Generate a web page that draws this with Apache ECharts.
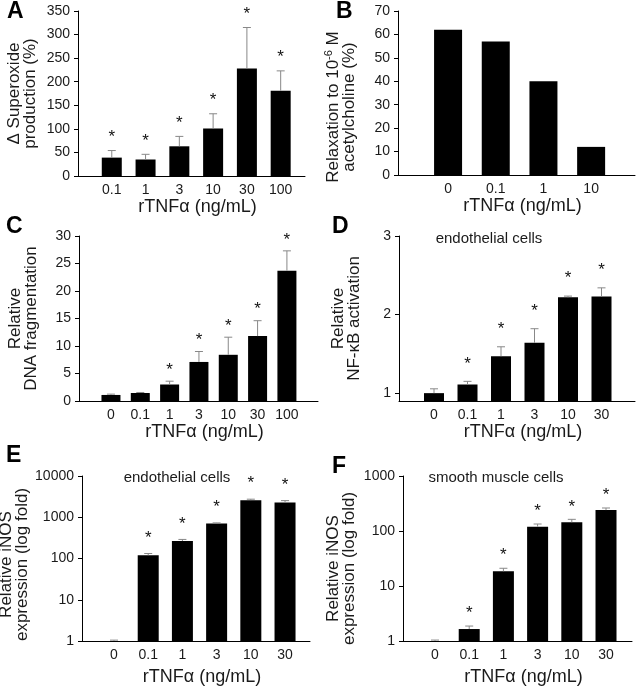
<!DOCTYPE html>
<html>
<head>
<meta charset="utf-8">
<script src="https://cdn.jsdelivr.net/npm/echarts@6/dist/echarts.min.js"></script>
<style>
  html, body { margin: 0; padding: 0; background: #fff; }
  #chart { width: 640px; height: 688px; }
</style>
</head>
<body>
<div id="chart"></div>
<script>
// A: superoxide production
const dosesA = ['0.1', '1', '3', '10', '30', '100'];
const superoxide = [39, 35, 63, 101, 228, 181];
const superoxideErr = [15, 11, 21, 31, 87, 42];
const superoxideSig = [1, 1, 1, 1, 1, 1];

// B: relaxation to acetylcholine
const dosesB = ['0', '0.1', '1', '10'];
const relaxation = [62, 57, 40, 12];

// C: DNA fragmentation
const dosesC = ['0', '0.1', '1', '3', '10', '30', '100'];
const dnaFrag = [1.1, 1.45, 3.0, 7.1, 8.4, 11.8, 23.7];
const dnaFragErr = [0.15, 0.1, 0.6, 1.9, 3.2, 2.8, 3.6];
const dnaFragSig = [0, 0, 1, 1, 1, 1, 1];

// D/E/F share the same doses
const dosesDEF = ['0', '0.1', '1', '3', '10', '30'];
const nfkb = [1.0, 1.11, 1.47, 1.64, 2.22, 2.23];
const nfkbErr = [0.055, 0.04, 0.12, 0.18, 0.015, 0.11];
const nfkbSig = [0, 1, 1, 1, 1, 1];
const nfkbTicks = [1, 2, 3];

const inosEndo = [1, 120, 265, 710, 2600, 2280];
const inosEndoErr = [0.05, 12, 25, 20, 140, 250];
const inosEndoSig = [0, 1, 1, 1, 1, 1];

const inosSmc = [1, 1.65, 18.5, 120, 144, 240];
const inosSmcErr = [0.04, 0.22, 2.5, 14, 19, 22];
const inosSmcSig = [0, 1, 1, 1, 1, 1];

const FONT = '"Liberation Sans", Arial, sans-serif';
const TXT = '#1a1a1a';
const xTitle = 'rTNFα (ng/mL)';

// namePad: pushes the rotated y title downward by half its value
const panels = [
  { grid: { left: 78, top: 11, width: 227, height: 165 }, xMin: 0, xMax: 6.72, barWidth: 20,
    doses: dosesA, vals: superoxide, errs: superoxideErr, sig: superoxideSig,
    y: { type: 'value', min: 0, max: 350, interval: 50 },
    name: 'Δ Superoxide\nproduction (%)', nameGap: 40, namePad: 0, xNameGap: 21, starGap: 17 },
  { grid: { left: 398, top: 11, width: 237, height: 164 }, xMin: -0.05, xMax: 4.92, barWidth: 28,
    doses: dosesB, vals: relaxation, errs: null, sig: null,
    y: { type: 'value', min: 0, max: 70, interval: 10 },
    name: 'Relaxation to 10{sup|-6} M\nacetylcholine (%)', nameGap: 41, namePad: 28, xNameGap: 20, starGap: 0 },
  { grid: { left: 79, top: 236, width: 239, height: 165 }, xMin: -0.09, xMax: 8.06, barWidth: 19,
    doses: dosesC, vals: dnaFrag, errs: dnaFragErr, sig: dnaFragSig,
    y: { type: 'value', min: 0, max: 30, interval: 5 },
    name: 'Relative\nDNA fragmentation', nameGap: 40, namePad: 0, xNameGap: 22, starGap: 14.5 },
  { grid: { left: 399, top: 236, width: 236, height: 165 }, xMin: -0.045, xMax: 7.0, barWidth: 20,
    doses: dosesDEF, vals: nfkb, errs: nfkbErr, sig: nfkbSig,
    y: { type: 'value', min: 0.9, max: 3, ticks: nfkbTicks },
    name: 'Relative\nNF-κB activation', nameGap: 37, namePad: 0, xNameGap: 22, starGap: 21 },
  { grid: { left: 82, top: 476, width: 228, height: 165 }, xMin: 0.064, xMax: 6.73, barWidth: 21,
    doses: dosesDEF, vals: inosEndo, errs: inosEndoErr, sig: inosEndoSig,
    y: { type: 'log', min: 1, max: 10000 },
    name: 'Relative iNOS\nexpression (log fold)', nameGap: 47, namePad: 12, xNameGap: 27, starGap: 19 },
  { grid: { left: 403, top: 476, width: 229, height: 165 }, xMin: 0.064, xMax: 6.76, barWidth: 21,
    doses: dosesDEF, vals: inosSmc, errs: inosSmcErr, sig: inosSmcSig,
    y: { type: 'log', min: 1, max: 1000 },
    name: 'Relative iNOS\nexpression (log fold)', nameGap: 46, namePad: 20, xNameGap: 27, starGap: 16 }
];

const grids = [], xAxes = [], yAxes = [], series = [];

panels.forEach((p, k) => {
  grids.push(Object.assign({ outerBoundsMode: 'none' }, p.grid));
  const pos = p.doses.map((d, i) => i + 1);

  xAxes.push({
    type: 'value', gridIndex: k, min: p.xMin, max: p.xMax,
    splitLine: { show: false },
    axisLine: { onZero: false, lineStyle: { color: '#000', width: 1 } },
    axisTick: { show: false },
    axisLabel: {
      customValues: pos, margin: 7, fontSize: 14, color: TXT, fontFamily: FONT,
      formatter: (v) => p.doses[Math.round(v) - 1] || ''
    },
    name: xTitle, nameLocation: 'middle', nameGap: p.xNameGap,
    nameTextStyle: { fontSize: 18, color: TXT, fontFamily: FONT, padding: [0, 0, 0, 12] }
  });

  const y = {
    type: p.y.type, gridIndex: k, min: p.y.min, max: p.y.max,
    splitLine: { show: false },
    axisLine: { show: true, onZero: false, lineStyle: { color: '#000', width: 1 } },
    axisTick: { show: true, length: 4, lineStyle: { color: '#000' } },
    axisLabel: { margin: 8, fontSize: 14, color: TXT, fontFamily: FONT, formatter: (v) => String(Math.round(v * 100) / 100) },
    name: p.name, nameLocation: 'middle', nameGap: p.nameGap,
    nameTextStyle: {
      fontSize: 17, lineHeight: 16, color: TXT, fontFamily: FONT,
      padding: [0, p.namePad, 0, 0],
      rich: { sup: { fontSize: 11, fontFamily: FONT, color: TXT, padding: [0, 0, 8, 0] } }
    }
  };
  if (p.y.interval) y.interval = p.y.interval;
  if (p.y.type === 'log') y.logBase = 10;
  if (p.y.ticks) {
    y.axisLabel.customValues = p.y.ticks;
    y.axisTick.customValues = p.y.ticks;
  }
  yAxes.push(y);

  series.push({
    type: 'bar', xAxisIndex: k, yAxisIndex: k, barWidth: p.barWidth,
    itemStyle: { color: '#000' }, silent: true,
    data: p.vals.map((v, i) => [pos[i], v])
  });

  if (p.errs) {
    series.push({
      type: 'custom', xAxisIndex: k, yAxisIndex: k, silent: true, z: 3,
      encode: { x: 0, y: 1 },
      data: p.vals.map((v, i) => [pos[i], v, p.errs[i], p.sig[i]]),
      renderItem: (params, api) => {
        const x = api.value(0), m = api.value(1), e = api.value(2);
        const a = api.coord([x, m]);
        const b = api.coord([x, m + e]);
        const kids = [
          { type: 'line', shape: { x1: a[0], y1: a[1], x2: b[0], y2: b[1] }, style: { stroke: '#888', lineWidth: 1 } },
          { type: 'line', shape: { x1: b[0] - 4, y1: b[1], x2: b[0] + 4, y2: b[1] }, style: { stroke: '#888', lineWidth: 1 } }
        ];
        if (api.value(3)) {
          kids.push({
            type: 'text', x: b[0], y: b[1] - p.starGap + 3.5,
            style: { text: '*', fontSize: 17, fontFamily: FONT, fill: '#111', align: 'center', verticalAlign: 'middle' }
          });
        }
        return { type: 'group', children: kids };
      }
    });
  }
});

const letter = (t, x, y) => ({
  type: 'text', left: x, top: y,
  style: { text: t, font: 'bold 23px ' + FONT, fill: '#000' }
});
const subtitle = (t, x, y) => ({
  type: 'text', x: x, y: y,
  style: { text: t, font: '15px ' + FONT, fill: TXT, align: 'center', verticalAlign: 'middle' }
});

const chart = echarts.init(document.getElementById('chart'), null, { renderer: 'canvas' });
chart.setOption({
  animation: false,
  backgroundColor: '#fff',
  textStyle: { fontFamily: FONT },
  grid: grids,
  xAxis: xAxes,
  yAxis: yAxes,
  series: series,
  graphic: [
    letter('A', 7, 0),
    letter('B', 336, 0),
    letter('C', 6, 215),
    letter('D', 332, 215),
    letter('E', 6, 444),
    letter('F', 332, 455),
    subtitle('endothelial cells', 489, 239),
    subtitle('endothelial cells', 177, 478),
    subtitle('smooth muscle cells', 496, 478)
  ]
});
</script>
</body>
</html>
